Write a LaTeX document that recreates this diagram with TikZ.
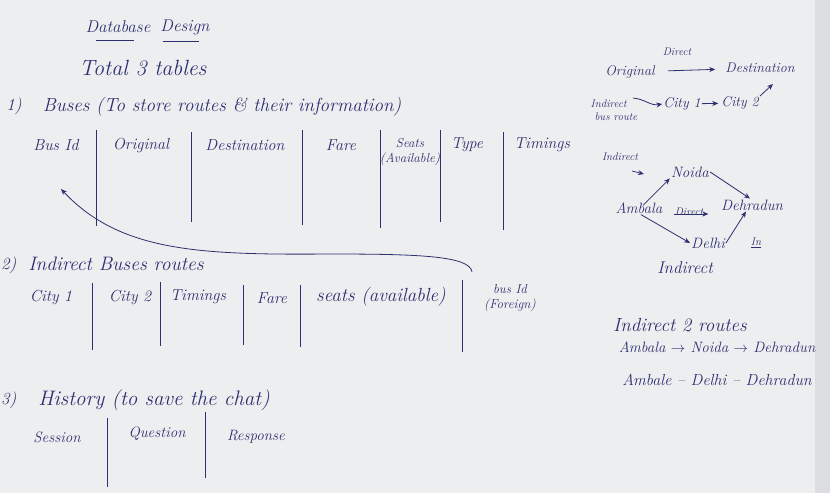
\documentclass[tikz,border=0pt]{standalone}
\usepackage{fontspec}
\usetikzlibrary{arrows.meta}
\definecolor{ink}{HTML}{2C2F70}
\definecolor{paper}{HTML}{EDEEF0}
\definecolor{paperedge}{HTML}{DCDDE0}
\newcommand{\fsz}[1]{\fontsize{#1}{1.2\dimexpr #1pt\relax}\selectfont\itshape}
\begin{document}
\begin{tikzpicture}[x=1pt,y=-1pt,
  big/.style={font=\fsz{17}, text=ink, inner sep=1pt},
  lbl/.style={font=\fsz{16}, text=ink, inner sep=1pt, align=center},
  rlbl/.style={font=\fsz{14}, text=ink, inner sep=1pt, align=center},
  small/.style={font=\fsz{11}, text=ink, inner sep=1pt, align=center},
  colline/.style={draw=ink, line width=0.9pt},
  uline/.style={draw=ink, line width=0.8pt},
  arr/.style={draw=ink, line width=0.8pt, -{Stealth[length=6pt,width=5pt]}}]
\useasboundingbox (0,0) rectangle (830,493);
\fill[paper] (0,0) rectangle (830,493);
\fill[paperedge] (815,0) rectangle (830,493);

% title
\node[big] (tdb) at (118,27) {Database};
\node[big] (tdes) at (185,27) {Design};
\draw[uline] ([yshift=-6]tdb.south west) ++(12,0) -- ++(38,0);
\draw[uline] ([yshift=-6]tdes.south west) ++(4,0) -- ++(36,0);
\node[big, font=\fsz{22}] (total) at (143,68) {Total 3 tables};

% table 1
\node[big] (n1) at (14,106) {1)};
\node[big, font=\fsz{19}] (t1) at (222,107) {Buses (To store routes \& their information)};
\node[lbl] (busid) at (56,145) {Bus Id};
\node[lbl] (orig) at (141,145) {Original};
\node[lbl] (dest) at (245,145) {Destination};
\node[lbl] (fare) at (341,145) {Fare};
\node[lbl, font=\fsz{13}, align=center] (seats) at (410,152) {Seats\\(Available)};
\node[lbl] (type) at (467,145) {Type};
\node[lbl] (timings) at (542,145) {Timings};
\foreach \x/\a/\b in {96/130/226, 191/132/222, 302/130/225, 380/130/228, 440/130/222, 503/132/230}
  \draw[colline] (\x,\a) -- (\x,\b);

% table 2
\node[big, anchor=west] (n2) at (0,265) {2)};
\node[big, font=\fsz{19.5}] (t2) at (116,264) {Indirect Buses routes};
\node[lbl] (city1) at (51,297) {City 1};
\node[lbl] (city2) at (130,297) {City 2};
\node[lbl] (tim2) at (198,297) {Timings};
\node[lbl] (fare2) at (272,298) {Fare};
\node[lbl, font=\fsz{19}] (seats2) at (381,297) {seats (available)};
\node[lbl, font=\fsz{13}, align=center] (fk) at (510,298) {bus Id\\ (Foreign)};
\foreach \x/\a/\b in {92/283/350, 160/282/346, 243/285/345, 300/285/347, 462/280/352}
  \draw[colline] (\x,\a) -- (\x,\b);
\coordinate (fkstart) at (472,272);
\coordinate (fkend) at (61,189);
\draw[arr] (fkstart) .. controls (470,256) and (420,254) .. (330,254)
  .. controls (200,255) and (120,252) .. (fkend);

% table 3
\node[big, anchor=west] (n3) at (0,400) {3)};
\node[big, font=\fsz{21}] (t3) at (154,400) {History (to save the chat)};
\node[lbl, font=\fsz{15}] (sess) at (57,437) {Session};
\node[lbl, font=\fsz{15}] (quest) at (157,434) {Question};
\node[lbl, font=\fsz{15}] (resp) at (256,437) {Response};
\draw[colline] (107,418) -- (107,487);
\draw[colline] (205,412) -- (205,478);

% right: route sketch
\node[small] (dirA) at (677,52) {Direct};
\node[rlbl] (rorig) at (630,72) {Original};
\node[rlbl] (rdest) at (760,68) {Destination};
\draw[arr, shorten <=12pt, shorten >=9pt] (rorig) -- (rdest);
\node[small, align=left] (ibr) at (614,110) {Indirect\\\ bus route};
\node[rlbl] (rc1) at (682,104) {City 1};
\node[rlbl] (rc2) at (740,103) {City 2};
\coordinate (ibrs) at (633,98);
\draw[arr] (ibrs) to[out=-5,in=190] (rc1.west);
\draw[arr, shorten >=2pt] (rc1) -- (rc2);
\coordinate (c2up) at (760,96);
\coordinate (dstlow) at (773,84);
\draw[arr] (c2up) -- (dstlow);

% right: example
\node[small] (ind1) at (620,157) {Indirect};
\coordinate (ia) at (632,171);
\coordinate (ib) at (644,174);
\draw[arr] (ia) -- (ib);
\node[rlbl, font=\fsz{15}] (noida) at (690,172) {Noida};
\node[rlbl, font=\fsz{15}] (amb) at (639,208) {Ambala};
\node[small] (dirB) at (689,212) {Direct};
\node[rlbl, font=\fsz{15}] (deh) at (752,205) {Dehradun};
\node[rlbl, font=\fsz{15}] (del) at (708,243) {Delhi};
\node[small] (inn) at (756,243) {\underline{In}};
\node[rlbl, font=\fsz{17}] (ind2) at (685,268) {Indirect};
\draw[arr] ([xshift=4pt,yshift=-4pt]amb.north) -- (noida.south west);
\draw[arr] (noida.east) -- ([xshift=-2pt]deh.north);
\draw[arr] ([yshift=-7pt]dirB.north west) -- ([yshift=-7pt,xshift=4pt]dirB.north east);
\draw[arr] ([xshift=2pt]amb.south) -- (del.west);
\draw[arr] (del.east) -- ([xshift=-6pt]deh.south);

% right: summary
\node[rlbl, font=\fsz{19}] (ind2r) at (680,325) {Indirect 2 routes};
\node[rlbl, font=\fsz{15}] (r1) at (717,347) {Ambala $\rightarrow$ Noida $\rightarrow$ Dehradun};
\node[rlbl, font=\fsz{16}] (r2) at (717,380) {Ambale -- Delhi -- Dehradun};
\end{tikzpicture}
\end{document}
